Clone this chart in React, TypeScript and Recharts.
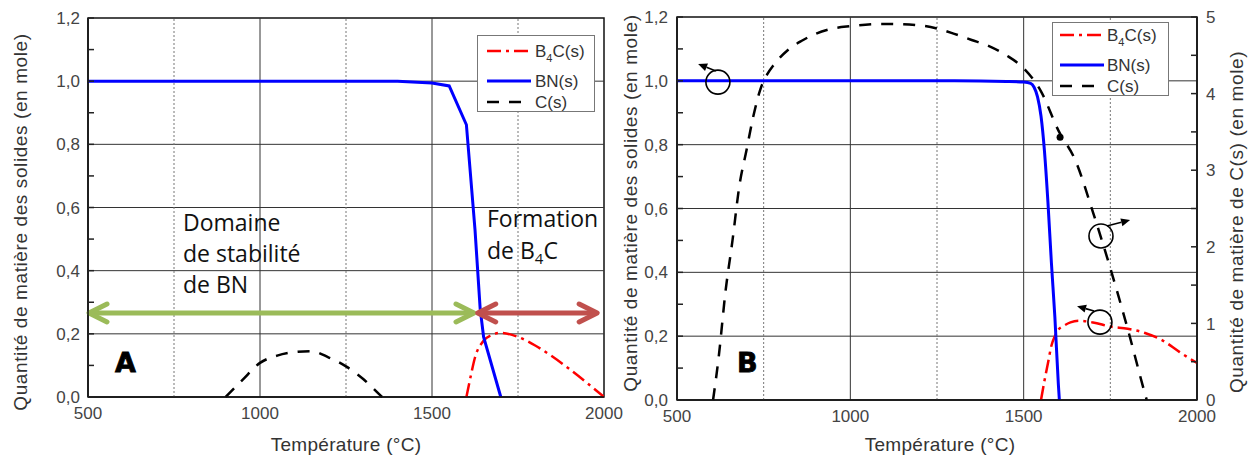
import React from "react";
import {
  LineChart,
  Line,
  XAxis,
  YAxis,
  ReferenceLine,
  ReferenceArea,
  ReferenceDot,
  Legend,
} from "recharts";

// ---------- Panel A ----------
const bnA = [
  { t: 500, v: 1.0 },
  { t: 1400, v: 1.0 },
  { t: 1500, v: 0.994 },
  { t: 1550, v: 0.985 },
  { t: 1600, v: 0.862 },
  { t: 1625, v: 0.53 },
  { t: 1640, v: 0.28 },
  { t: 1650, v: 0.19 },
  { t: 1700, v: 0.0 },
];
const b4cA = [
  { t: 1600, v: 0.0 },
  { t: 1612, v: 0.063 },
  { t: 1625, v: 0.125 },
  { t: 1650, v: 0.178 },
  { t: 1675, v: 0.197 },
  { t: 1700, v: 0.203 },
  { t: 1750, v: 0.19 },
  { t: 1800, v: 0.163 },
  { t: 1850, v: 0.128 },
  { t: 1900, v: 0.088 },
  { t: 1950, v: 0.045 },
  { t: 2000, v: 0.0 },
];
const cA = [
  { t: 900, v: 0.0 },
  { t: 950, v: 0.055 },
  { t: 1000, v: 0.108 },
  { t: 1050, v: 0.131 },
  { t: 1100, v: 0.142 },
  { t: 1150, v: 0.145 },
  { t: 1200, v: 0.125 },
  { t: 1250, v: 0.097 },
  { t: 1300, v: 0.057 },
  { t: 1350, v: 0.005 },
  { t: 1355, v: 0.0 },
];

// ---------- Panel B ----------
const bnB = [
  { t: 500, v: 1.0 },
  { t: 1300, v: 1.0 },
  { t: 1450, v: 0.998 },
  { t: 1500, v: 0.996 },
  { t: 1520, v: 0.992 },
  { t: 1530, v: 0.98 },
  { t: 1540, v: 0.95 },
  { t: 1550, v: 0.89 },
  { t: 1560, v: 0.78 },
  { t: 1570, v: 0.62 },
  { t: 1580, v: 0.43 },
  { t: 1590, v: 0.26 },
  { t: 1600, v: 0.05 },
  { t: 1603, v: 0.0 },
];
const b4cB = [
  { t: 1550, v: 0.0 },
  { t: 1560, v: 0.06 },
  { t: 1570, v: 0.115 },
  { t: 1580, v: 0.17 },
  { t: 1590, v: 0.2 },
  { t: 1600, v: 0.22 },
  { t: 1615, v: 0.232 },
  { t: 1635, v: 0.243 },
  { t: 1660, v: 0.248 },
  { t: 1700, v: 0.243 },
  { t: 1750, v: 0.23 },
  { t: 1800, v: 0.223 },
  { t: 1850, v: 0.21 },
  { t: 1900, v: 0.187 },
  { t: 1950, v: 0.15 },
  { t: 2000, v: 0.116 },
];
// C(s) on the right axis (0..5 mol)
const cB = [
  { t: 604, v: 0.0 },
  { t: 620, v: 0.55 },
  { t: 640, v: 1.42 },
  { t: 660, v: 2.08 },
  { t: 680, v: 2.8 },
  { t: 700, v: 3.25 },
  { t: 720, v: 3.7 },
  { t: 740, v: 4.05 },
  { t: 760, v: 4.25 },
  { t: 780, v: 4.38 },
  { t: 820, v: 4.57 },
  { t: 860, v: 4.69 },
  { t: 900, v: 4.78 },
  { t: 950, v: 4.85 },
  { t: 1000, v: 4.88 },
  { t: 1100, v: 4.91 },
  { t: 1200, v: 4.89 },
  { t: 1250, v: 4.85 },
  { t: 1300, v: 4.78 },
  { t: 1350, v: 4.7 },
  { t: 1400, v: 4.62 },
  { t: 1450, v: 4.5 },
  { t: 1500, v: 4.33 },
  { t: 1550, v: 4.03 },
  { t: 1600, v: 3.52 },
  { t: 1650, v: 3.12 },
  { t: 1700, v: 2.45 },
  { t: 1750, v: 1.72 },
  { t: 1800, v: 0.93 },
  { t: 1850, v: 0.08 },
  { t: 1855, v: 0.0 },
];

// ---------- axes ----------
const tempLabels = [500, 1000, 1500, 2000];
const tempGridSolid = [1000, 1500];
const tempGridDotted = [750, 1250, 1750];
const solidTicks = [0, 0.1, 0.2, 0.3, 0.4, 0.5, 0.6, 0.7, 0.8, 0.9, 1.0, 1.1, 1.2];
const solidGrid = [0.2, 0.4, 0.6, 0.8, 1.0];
const carbonTicks = [0, 0.5, 1, 1.5, 2, 2.5, 3, 3.5, 4, 4.5, 5];

// ---------- annotations (data coords) ----------
const stabArrowA = [{ t: 500, v: 0.266 }, { t: 1625, v: 0.266 }];
const formArrowA = [{ t: 1630, v: 0.266 }, { t: 1983, v: 0.266 }];
const circlesB = [
  { t: 618, v: 0.996 },
  { t: 1723, v: 0.514 },
  { t: 1720, v: 0.244 },
];
const pointersB = [
  [{ t: 612, v: 1.031 }, { t: 561, v: 1.053 }],
  [{ t: 1740, v: 0.545 }, { t: 1807, v: 0.564 }],
  [{ t: 1703, v: 0.279 }, { t: 1654, v: 0.294 }],
];

const series = [
  { key: "b4c", label: "B4C(s)", color: "#ff0000", dash: "14 5 3 5", width: 2.5 },
  { key: "bn", label: "BN(s)", color: "#0000ff", dash: undefined, width: 3 },
  { key: "c", label: "C(s)", color: "#000000", dash: "12 10", width: 2.5 },
];

const FONT = "'Liberation Sans', Arial, sans-serif";
const fmtSolid = (v: number) => v.toFixed(1).replace(".", ",");
const isMajorSolid = (v: number) => Math.round(v * 10) % 2 === 0;
const isMajorC = (v: number) => Number.isInteger(v);

// tick with inward tick mark and outside label
const makeYTick =
  (side: "left" | "right", gap: number, isMajor: (v: number) => boolean, fmt?: (v: number) => string) =>
  (props: any) => {
    const { x, y, payload } = props;
    const v = payload.value;
    const edge = side === "left" ? x + gap : x - gap;
    const dir = side === "left" ? 1 : -1;
    return (
      <g>
        <line x1={edge} y1={y} x2={edge + dir * 6} y2={y} stroke="#222" strokeWidth={1.5} />
        {fmt && isMajor(v) && (
          <text
            x={x}
            y={y}
            dy="0.36em"
            textAnchor={side === "left" ? "end" : "start"}
            fontSize={17}
            fontFamily={FONT}
            fill="#444"
          >
            {fmt(v)}
          </text>
        )}
      </g>
    );
  };

const seriesName = (label: string) =>
  label.startsWith("B4C") ? (
    <>
      <tspan>B</tspan>
      <tspan fontSize={11} dy={5}>
        4
      </tspan>
      <tspan dy={-5}>{label.slice(2)}</tspan>
    </>
  ) : (
    label
  );

const LegendBox = ({ w, h, rows, lineX, textX }: any) => (
  <svg width={w} height={h} style={{ display: "block" }}>
    <rect x={0.5} y={0.5} width={w - 1} height={h - 1} fill="#fff" stroke="#777" />
    {series.map((s, i) => (
      <g key={s.key}>
        <line
          x1={lineX}
          x2={lineX + 44}
          y1={rows[i]}
          y2={rows[i]}
          stroke={s.color}
          strokeWidth={s.width}
          strokeDasharray={s.dash}
        />
        <text x={textX} y={rows[i]} dy="0.36em" fontSize={17} fontFamily={FONT} fill="#333">
          {seriesName(s.label)}
        </text>
      </g>
    ))}
  </svg>
);

const DoubleArrow = (color: string) => (props: any) => {
  const { x1, y1, x2, y2 } = props;
  const a = 19;
  const b = 9;
  return (
    <g stroke={color} strokeWidth={5} fill="none" strokeLinecap="round" strokeLinejoin="round">
      <line x1={x1 + 3} y1={y1} x2={x2 - 3} y2={y2} />
      <polyline points={`${x1 + a},${y1 - b} ${x1 + 1},${y1} ${x1 + a},${y1 + b}`} />
      <polyline points={`${x2 - a},${y2 - b} ${x2 - 1},${y2} ${x2 - a},${y2 + b}`} />
    </g>
  );
};

const ThinArrow = (props: any) => {
  const { x1, y1, x2, y2 } = props;
  const ang = Math.atan2(y2 - y1, x2 - x1);
  const L = 9;
  const W = 4;
  const bx = x2 - L * Math.cos(ang);
  const by = y2 - L * Math.sin(ang);
  const px = -Math.sin(ang) * W;
  const py = Math.cos(ang) * W;
  return (
    <g>
      <line x1={x1} y1={y1} x2={bx} y2={by} stroke="#000" strokeWidth={1.6} />
      <polygon points={`${x2},${y2} ${bx + px},${by + py} ${bx - px},${by - py}`} fill="#000" />
    </g>
  );
};

const gridLines = (yAxisId?: string) => (
  <>
    {solidGrid.map((v) => (
      <ReferenceLine key={"h" + v} y={v} yAxisId={yAxisId} stroke="#333" strokeWidth={1} />
    ))}
    {tempGridSolid.map((t) => (
      <ReferenceLine key={"vs" + t} x={t} yAxisId={yAxisId} stroke="#333" strokeWidth={1} />
    ))}
    {tempGridDotted.map((t) => (
      <ReferenceLine key={"vd" + t} x={t} yAxisId={yAxisId} stroke="#777" strokeWidth={1} strokeDasharray="2 2" />
    ))}
  </>
);

const xAxisProps = {
  dataKey: "t",
  type: "number" as const,
  domain: [500, 2000],
  ticks: tempLabels,
  interval: 0 as const,
  allowDataOverflow: true,
  tickLine: false,
  tickSize: 0,
  tickMargin: 10,
  height: 30,
  axisLine: { stroke: "#111", strokeWidth: 1.5 },
  tick: { fontSize: 17, fill: "#444", fontFamily: FONT },
};

const lineFor = (key: string, data: any[], type: any, yAxisId?: string) => {
  const s = series.find((x) => x.key === key)!;
  return (
    <Line
      data={data}
      dataKey="v"
      yAxisId={yAxisId}
      type={type}
      stroke={s.color}
      strokeWidth={s.width}
      strokeDasharray={s.dash}
      dot={false}
      isAnimationActive={false}
      legendType="none"
    />
  );
};

// chart is 640 wide so the "2000" label is not clipped; plot still ends at x=604
const PanelA = () => (
  <LineChart width={640} height={456} margin={{ top: 18, right: 26, bottom: 29, left: 28 }}>
    <XAxis {...xAxisProps} />
    <YAxis
      type="number"
      domain={[0, 1.2]}
      ticks={solidTicks}
      interval={0}
      width={60}
      tickSize={0}
      tickMargin={8}
      tickLine={false}
      axisLine={{ stroke: "#111", strokeWidth: 1.5 }}
      tick={makeYTick("left", 8, isMajorSolid, fmtSolid)}
    />
    <YAxis
      yAxisId="r"
      orientation="right"
      type="number"
      domain={[0, 1.2]}
      ticks={solidTicks}
      interval={0}
      width={10}
      tickSize={0}
      tickMargin={0}
      tickLine={false}
      axisLine={false}
      tick={makeYTick("right", 0, isMajorSolid)}
    />
    {gridLines()}
    <ReferenceArea x1={500} x2={2000} y1={0} y2={1.2} fill="none" stroke="#111" strokeWidth={1.5} />
    {lineFor("c", cA, "monotone")}
    {lineFor("b4c", b4cA, "monotone")}
    {lineFor("bn", bnA, "linear")}
    <ReferenceLine
      segment={stabArrowA.map((p) => ({ x: p.t, y: p.v }))}
      shape={DoubleArrow("#9bbb59")}
    />
    <ReferenceLine
      segment={formArrowA.map((p) => ({ x: p.t, y: p.v }))}
      shape={DoubleArrow("#c0504d")}
    />
    <Legend
      layout="horizontal"
      verticalAlign="middle"
      align="center"
      wrapperStyle={{ left: 477, top: 35, width: 118, height: 77 }}
      content={() => <LegendBox w={118} h={77} rows={[16, 46, 67]} lineX={10} textX={58} />}
    />
  </LineChart>
);

const PanelB = () => (
  <LineChart width={634} height={456} margin={{ top: 17, right: 17, bottom: 26, left: 7 }}>
    <XAxis {...xAxisProps} />
    <YAxis
      type="number"
      domain={[0, 1.2]}
      ticks={solidTicks}
      interval={0}
      width={50}
      tickSize={0}
      tickMargin={9}
      tickLine={false}
      axisLine={{ stroke: "#111", strokeWidth: 1.5 }}
      tick={makeYTick("left", 9, isMajorSolid, fmtSolid)}
    />
    <YAxis
      yAxisId="right"
      orientation="right"
      type="number"
      domain={[0, 5]}
      ticks={carbonTicks}
      interval={0}
      width={40}
      tickSize={0}
      tickMargin={9}
      tickLine={false}
      axisLine={{ stroke: "#111", strokeWidth: 1.5 }}
      tick={makeYTick("right", 9, isMajorC, (v) => String(v))}
    />
    {gridLines()}
    <ReferenceArea x1={500} x2={2000} y1={0} y2={1.2} fill="none" stroke="#111" strokeWidth={1.5} />
    {lineFor("c", cB, "monotone", "right")}
    {lineFor("b4c", b4cB, "monotone")}
    {lineFor("bn", bnB, "monotone")}
    <ReferenceDot x={1605} y={3.43} yAxisId="right" r={3.5} fill="#000" stroke="none" />
    {circlesB.map((c, i) => (
      <ReferenceDot key={"c" + i} x={c.t} y={c.v} r={12} fill="none" stroke="#000" strokeWidth={1.6} />
    ))}
    {pointersB.map((seg, i) => (
      <ReferenceLine key={"p" + i} segment={seg.map((p) => ({ x: p.t, y: p.v }))} shape={ThinArrow} />
    ))}
    <Legend
      layout="horizontal"
      verticalAlign="middle"
      align="center"
      wrapperStyle={{ left: 432, top: 22, width: 117, height: 74 }}
      content={() => <LegendBox w={117} h={74} rows={[13, 43, 64]} lineX={8} textX={55} />}
    />
  </LineChart>
);

const titleStyle = { fontFamily: FONT, fontSize: 19, fill: "#333" };
const noteStyle = { fontFamily: "'Open Sans', 'Noto Sans', sans-serif", fontSize: 23, fill: "#111" };
const bigLetter = {
  fontFamily: "'DejaVu Sans', sans-serif",
  fontSize: 27,
  fontWeight: 700,
  fill: "#000",
  stroke: "#000",
  strokeWidth: 0.8,
};

const App = () => (
  <div
    style={{
      position: "absolute",
      left: 0,
      top: 0,
      width: 1254,
      height: 456,
      background: "#fff",
      overflow: "hidden",
    }}
  >
    <div style={{ position: "absolute", left: 0, top: 0 }}>
      <PanelA />
    </div>
    <div style={{ position: "absolute", left: 620, top: 0 }}>
      <PanelB />
    </div>
    <svg
      width={1254}
      height={456}
      style={{ position: "absolute", left: 0, top: 0, pointerEvents: "none" }}
    >
      {/* axis titles */}
      <text x={346} y={451} textAnchor="middle" letterSpacing={0.3} {...titleStyle}>
        Température (°C)
      </text>
      <text x={940} y={451} textAnchor="middle" letterSpacing={0.3} {...titleStyle}>
        Température (°C)
      </text>
      <text
        x={20}
        y={222}
        transform="rotate(-90 20 222)"
        textAnchor="middle"
        dominantBaseline="central"
        letterSpacing={0.6}
        {...titleStyle}
      >
        Quantité de matière des solides (en mole)
      </text>
      <text
        x={630}
        y={203}
        transform="rotate(-90 630 203)"
        textAnchor="middle"
        dominantBaseline="central"
        letterSpacing={0.6}
        {...titleStyle}
      >
        Quantité de matière des solides (en mole)
      </text>
      <text
        x={1236}
        y={222}
        transform="rotate(-90 1236 222)"
        textAnchor="middle"
        dominantBaseline="central"
        letterSpacing={0.6}
        {...titleStyle}
      >
        Quantité de matière de C(s) (en mole)
      </text>

      {/* panel notes */}
      <text x={183} y={231} {...noteStyle}>Domaine</text>
      <text x={183} y={262} {...noteStyle}>de stabilité</text>
      <text x={183} y={293} {...noteStyle}>de BN</text>
      <text x={487} y={227} {...noteStyle}>Formation</text>
      <text x={487} y={259} {...noteStyle}>
        de B<tspan fontSize={15} dy={5}>4</tspan>
        <tspan dy={-5}>C</tspan>
      </text>
      <text x={115} y={372} {...bigLetter}>A</text>
      <text x={737} y={372} {...bigLetter}>B</text>
    </svg>
  </div>
);

export default App;
